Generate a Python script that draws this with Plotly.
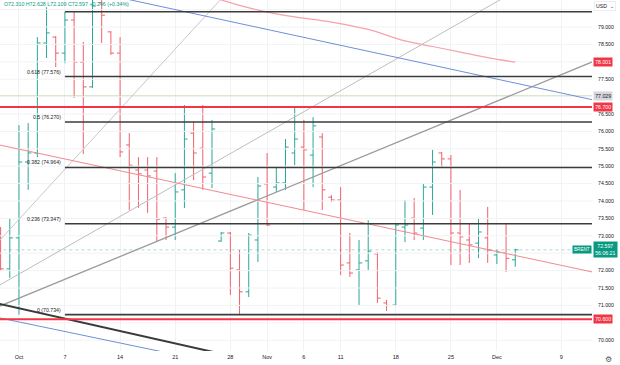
import plotly.graph_objects as go

# ---------------- data ----------------
bar_dates = [
    "2024-09-29", "2024-09-30", "2024-10-01", "2024-10-02", "2024-10-03", "2024-10-04",
    "2024-10-06", "2024-10-07", "2024-10-08", "2024-10-09", "2024-10-10", "2024-10-11",
    "2024-10-13", "2024-10-14", "2024-10-15", "2024-10-16", "2024-10-17", "2024-10-18",
    "2024-10-20", "2024-10-21", "2024-10-22", "2024-10-23", "2024-10-24", "2024-10-25",
    "2024-10-27", "2024-10-28", "2024-10-29", "2024-10-30", "2024-10-31", "2024-11-01",
    "2024-11-03", "2024-11-04", "2024-11-05", "2024-11-06", "2024-11-07", "2024-11-08",
    "2024-11-10", "2024-11-11", "2024-11-12", "2024-11-13", "2024-11-14", "2024-11-15",
    "2024-11-17", "2024-11-18", "2024-11-19", "2024-11-20", "2024-11-21", "2024-11-22",
    "2024-11-24", "2024-11-25", "2024-11-26", "2024-11-27", "2024-11-28", "2024-11-29",
    "2024-12-01", "2024-12-02", "2024-12-03",
]
future_dates = ["2024-12-04", "2024-12-05", "2024-12-06", "2024-12-08", "2024-12-09"]

opens = [73.22, 72.05, 72.94, 75.12, 75.38, 78.54, 78.71, 78.25, 79.20, 77.99, 77.28, 79.70,
         78.86, 78.25, 75.61, 74.89, 74.89, 74.86, 73.51, 73.25, 74.32, 75.95, 75.52, 74.80,
         72.85, 73.08, 72.02, 71.39, 72.88, 74.49, 74.40, 74.52, 75.38, 75.55, 75.32, 75.84,
         74.11, 74.03, 72.22, 72.02, 72.28, 72.48, 71.07, 71.01, 73.25, 73.51, 73.22, 74.40,
         75.38, 75.21, 73.08, 72.88, 72.79, 72.94, 72.45, 72.51, 72.310]
highs = [73.25, 73.51, 76.18, 76.24, 78.71, 79.57, 78.74, 79.43, 79.43, 78.57, 80.20, 80.00,
         78.88, 78.71, 75.95, 75.26, 75.26, 75.26, 73.54, 74.80, 76.76, 76.27, 76.76, 76.33,
         73.11, 73.11, 72.59, 73.08, 74.69, 75.38, 74.95, 75.78, 76.67, 76.33, 76.41, 75.95,
         74.17, 74.40, 73.08, 72.88, 73.45, 72.53, 71.16, 73.37, 74.03, 74.09, 74.49, 75.47,
         75.41, 75.32, 74.32, 73.37, 73.51, 73.83, 72.59, 73.37, 72.628]
lows = [72.00, 71.79, 70.734, 74.32, 75.26, 78.11, 77.85, 77.96, 76.96, 75.35, 77.25, 78.54,
        78.20, 75.26, 73.74, 73.80, 73.66, 72.82, 72.88, 72.88, 73.80, 74.60, 74.32, 74.37,
        72.83, 71.30, 70.72, 71.24, 72.25, 73.28, 74.26, 74.32, 75.03, 73.74, 74.40, 73.74,
        73.97, 71.87, 71.82, 71.01, 72.02, 71.07, 70.84, 70.98, 72.82, 72.88, 72.88, 73.60,
        74.95, 72.16, 72.16, 72.22, 72.36, 72.22, 72.19, 71.96, 72.109]
closes = [72.05, 72.94, 75.12, 75.38, 78.54, 78.83, 78.25, 79.20, 77.99, 77.28, 79.60, 79.34,
          78.25, 75.41, 75.03, 74.78, 74.72, 73.48, 73.25, 74.26, 75.78, 75.38, 74.69, 76.07,
          73.08, 72.07, 71.39, 73.02, 74.43, 73.31, 74.52, 75.55, 75.78, 75.47, 76.16, 74.32,
          74.03, 72.16, 71.93, 72.22, 72.56, 71.21, 71.00, 73.31, 73.31, 73.08, 74.40, 75.12,
          75.21, 73.08, 72.97, 72.74, 73.11, 72.59, 72.53, 72.351, 72.597]

# moving average (pink curve) : bar index -> value
ma_idx = [20, 22, 24, 26, 29, 32, 36, 40, 44, 47, 50, 53, 56]
ma_val = [80.15, 79.95, 79.78, 79.62, 79.43, 79.29, 79.14, 78.93, 78.60, 78.44, 78.28, 78.12, 77.99]

# drawn trend lines: (start index, start price, end index, end price)
line_a = [-1.0, 72.61, 28.0, 80.96]     # light grey steep
line_b = [-1.0, 71.45, 58.0, 80.33]     # light grey
line_c = [-1.0, 70.88, 64.4, 78.00]     # grey
blue_up = [12.0, 79.90, 64.4, 76.91]
blue_lo = [-1.0, 70.69, 19.0, 69.59]
black_ln = [-1.0, 71.095, 24.0, 69.61]
red_trend = [-1.0, 75.66, 64.4, 71.96]

fib_levels = [0.0, 0.236, 0.382, 0.5, 0.618, 0.786]
fib_prices = [70.734, 73.347, 74.964, 76.270, 77.576, 79.437]
fib_start_date = "2024-10-07"

red_levels = [76.700, 70.600]
pale_level = 77.029
last_price = 72.597

tick_dates = ["2024-10-01", "2024-10-07", "2024-10-14", "2024-10-21", "2024-10-28", "2024-11-01",
              "2024-11-06", "2024-11-11", "2024-11-18", "2024-11-25", "2024-12-01", "2024-12-09"]
tick_text = ["Oct", "7", "14", "21", "28", "Nov", "6", "11", "18", "25", "Dec", "9"]
ytick_vals = [70, 71, 71.5, 72, 73, 73.5, 74, 74.5, 75, 75.5, 76, 76.5, 77.5, 78.5, 79]
ygrid_vals = [70 + 0.5 * k for k in range(20)]

# ---------------- figure ----------------
all_dates = bar_dates + future_dates
xs = list(range(len(bar_dates)))
FONT = "Liberation Sans, Arial, sans-serif"
UP = "#2aa897"
DN = "#f0606b"
X_END = 64.4

fig = go.Figure()

def hline(y, color, width, x0=-1, dash=None):
    fig.add_trace(go.Scatter(x=[x0, X_END], y=[y, y], mode="lines",
                             line=dict(color=color, width=width, dash=dash),
                             hoverinfo="skip", showlegend=False))

def seg(p, color, width):
    fig.add_trace(go.Scatter(x=[p[0], p[2]], y=[p[1], p[3]], mode="lines",
                             line=dict(color=color, width=width),
                             hoverinfo="skip", showlegend=False))

# horizontal grid
for g in ygrid_vals:
    hline(g, "#f1f2f5", 1)

hline(pale_level, "rgba(190,210,170,0.6)", 1)
hline(last_price, "rgba(8,153,129,0.35)", 1, dash="dot")

seg(line_a, "#c8c8c8", 1)
seg(line_b, "#bdbdbd", 1)
seg(line_c, "#9a9a9a", 1.3)
seg(blue_up, "#6f8fd8", 1)
seg(blue_lo, "#6f8fd8", 1)
seg(black_ln, "#3a3a3a", 2)
seg(red_trend, "#f08a90", 1)

fig.add_trace(go.Scatter(x=ma_idx, y=ma_val, mode="lines", line=dict(color="#f4a3aa", width=1.2, shape="spline"),
                         hoverinfo="skip", showlegend=False))

fib_x0 = all_dates.index(fib_start_date)
for lvl, pr in zip(fib_levels, fib_prices):
    hline(pr, "#3c3c3c", 1.6, x0=fib_x0)
    if lvl < 0.7:
        fig.add_annotation(x=fib_x0 - 0.25, y=pr, xref="x", yref="y", xanchor="right", yanchor="bottom",
                           text=f"{lvl:g} ({pr:.3f})", showarrow=False,
                           font=dict(size=5.2, color="#222", family=FONT))

for pr in red_levels:
    hline(pr, "#f23645", 2)

fig.add_trace(go.Ohlc(x=xs, open=opens, high=highs, low=lows, close=closes,
                      increasing=dict(line=dict(color=UP, width=1)),
                      decreasing=dict(line=dict(color=DN, width=1)),
                      tickwidth=0.35, hoverinfo="skip", showlegend=False))

tick_pos = [all_dates.index(d) for d in tick_dates]

fig.update_layout(
    width=620, height=365, margin=dict(l=0, r=28, t=0, b=14),
    paper_bgcolor="white", plot_bgcolor="white", showlegend=False,
    font=dict(family=FONT, size=5.2, color="#131722"),
    xaxis=dict(range=[-0.065, 64.35], tickvals=tick_pos, ticktext=tick_text, showgrid=True,
               gridcolor="#f1f2f5", zeroline=False, showline=False, ticks="",
               rangeslider=dict(visible=False), tickfont=dict(size=5.5, color="#131722"),
               ticklabelstandoff=1),
    yaxis=dict(range=[69.69, 79.776], side="right", tickvals=ytick_vals, tickformat=".3f",
               showgrid=False, zeroline=False, showline=False, ticks="",
               tickfont=dict(size=5.2, color="#131722"), ticklabelstandoff=5),
)

def axis_box(val, text, bg, fg="white"):
    fig.add_annotation(x=1, y=val, xref="paper", yref="y", xanchor="left", yanchor="middle",
                       xshift=1, text=text, showarrow=False, bgcolor=bg, borderpad=1.2,
                       font=dict(size=5.2, color=fg, family=FONT))

axis_box(78.001, "78.001", "#f23645")
axis_box(pale_level, "77.029", "#d6d8de", "#131722")
axis_box(76.700, "76.700", "#f23645")
axis_box(70.600, "70.600", "#f23645")
axis_box(last_price, "72.597<br>56:06:21", "#089981")
fig.add_annotation(x=1, y=last_price, xref="paper", yref="y", xanchor="right", yanchor="middle",
                   xshift=-0.5, text="BRENT", showarrow=False, bgcolor="#089981", borderpad=1,
                   font=dict(size=4.6, color="white", family=FONT))

chg = closes[-1] - closes[-2]
fig.add_annotation(x=0.003, y=1, xref="paper", yref="paper", xanchor="left", yanchor="top",
                   text=f"O{opens[-1]:.3f} H{highs[-1]:.3f} L{lows[-1]:.3f} C{closes[-1]:.3f} "
                        f"+{chg:.3f} (+{chg / closes[-2] * 100:.2f}%)",
                   showarrow=False, font=dict(size=5.3, color="#089981", family=FONT), yshift=1)

fig.add_annotation(x=1, y=1, xref="paper", yref="paper", xanchor="left", yanchor="top", xshift=2, yshift=-1,
                   text="USD  ⌄", showarrow=False, bordercolor="#e0e3eb", borderwidth=0.6, borderpad=1.5,
                   font=dict(size=5.2, color="#131722", family=FONT))
fig.add_annotation(x=1, y=0, xref="paper", yref="paper", xanchor="left", yanchor="top", xshift=11, yshift=-2,
                   text="⚙", showarrow=False, font=dict(size=8, color="#555", family="DejaVu Sans"))

fig.write_html("out.html")
